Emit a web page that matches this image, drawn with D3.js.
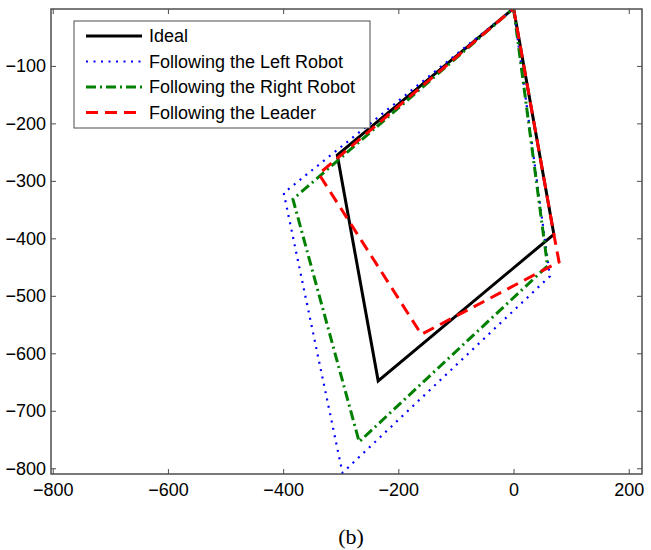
<!DOCTYPE html>
<html>
<head>
<meta charset="utf-8">
<script src="https://cdn.jsdelivr.net/npm/d3@7"></script>
<style>
	body { margin: 0; background: #fff; }
	.tick-label { font-family: "Liberation Sans", Arial, sans-serif; font-size: 18px; fill: #000; }
	.legend-text { font-family: "Liberation Sans", Arial, sans-serif; font-size: 18px; fill: #000; }
	.caption { font-family: "Liberation Serif", "Times New Roman", serif; font-size: 22px; fill: #000; }
</style>
</head>
<body>
<div id="svg-div"></div>
<script>
// Series (x, y)
var idealX = [0, 70, -235, -306, 0];
var idealY = [0, -393, -648, -255, 0];

var leftX = [0, 63, -297, -399, 0];
var leftY = [0, -466, -808, -321, 0];

var rightX = [0, 59, -268, -383, 0];
var rightY = [0, -448, -754, -332, 0];

var leaderX = [0, 70, 79, -160, -338, 0];
var leaderY = [0, -393, -441, -567, -288, 0];

var xTicks = [-800, -600, -400, -200, 0, 200];
var yTicks = [-100, -200, -300, -400, -500, -600, -700, -800];

var seriesNames = ["Ideal", "Following the Left Robot", "Following the Right Robot", "Following the Leader"];

var chartProperties = {
	outerWidth: 651,
	outerHeight: 550,
	left: 51,
	right: 642,
	top: 9,
	bottom: 474
};

var series = [
	{ name: seriesNames[0], xs: idealX, ys: idealY, color: "#000000", width: 3, dash: null },
	{ name: seriesNames[1], xs: leftX, ys: leftY, color: "#0000ff", width: 2.2, dash: "2,5.5" },
	{ name: seriesNames[2], xs: rightX, ys: rightY, color: "#008000", width: 3, dash: "10,4,2,4" },
	{ name: seriesNames[3], xs: leaderX, ys: leaderY, color: "#ff0000", width: 3, dash: "12,7" }
];

var svg = d3.select("#svg-div")
	.append("svg")
	.attr("width", chartProperties.outerWidth)
	.attr("height", chartProperties.outerHeight);

// Scales (axis equal)
var xScale = d3.scaleLinear()
	.domain([-803, 223])
	.range([chartProperties.left, chartProperties.right]);

var yScale = d3.scaleLinear()
	.domain([-810, -1])
	.range([chartProperties.bottom, chartProperties.top]);

var plotW = chartProperties.right - chartProperties.left;
var plotH = chartProperties.bottom - chartProperties.top;

svg.append("clipPath")
	.attr("id", "plot-clip")
	.append("rect")
	.attr("x", chartProperties.left)
	.attr("y", chartProperties.top)
	.attr("width", plotW)
	.attr("height", plotH);

// Lines
var line = d3.line()
	.x(function(d) { return xScale(d[0]); })
	.y(function(d) { return yScale(d[1]); });

var plot = svg.append("g").attr("clip-path", "url(#plot-clip)");

series.forEach(function(s) {
	var pts = s.xs.map(function(x, i) { return [x, s.ys[i]]; });
	plot.append("path")
		.datum(pts)
		.attr("d", line)
		.attr("fill", "none")
		.attr("stroke", s.color)
		.attr("stroke-width", s.width)
		.attr("stroke-linejoin", "miter")
		.attr("stroke-dasharray", s.dash);
});

// Axes, ticks inside on all four sides
var axisColor = "#4d4d4d";
var tickLen = 5;

function styleAxis(g) {
	g.select(".domain").remove();
	g.selectAll(".tick line").attr("stroke", axisColor).attr("stroke-width", 1);
	g.selectAll(".tick text").attr("class", "tick-label").attr("fill", "#000");
}

var fmt = function(d) { return d3.format("")(d).replace("-", "\u2212"); };

svg.append("g")
	.attr("transform", "translate(0," + chartProperties.bottom + ")")
	.call(d3.axisTop(xScale).tickValues(xTicks).tickSize(tickLen).tickFormat(""))
	.call(styleAxis);

svg.append("g")
	.attr("transform", "translate(0," + chartProperties.bottom + ")")
	.call(d3.axisBottom(xScale).tickValues(xTicks).tickSize(0).tickPadding(9).tickFormat(fmt))
	.call(styleAxis);

svg.append("g")
	.attr("transform", "translate(0," + chartProperties.top + ")")
	.call(d3.axisBottom(xScale).tickValues(xTicks).tickSize(tickLen).tickFormat(""))
	.call(styleAxis);

svg.append("g")
	.attr("transform", "translate(" + chartProperties.left + ",0)")
	.call(d3.axisRight(yScale).tickValues(yTicks).tickSize(tickLen).tickFormat(""))
	.call(styleAxis);

svg.append("g")
	.attr("transform", "translate(" + chartProperties.left + ",0)")
	.call(d3.axisLeft(yScale).tickValues(yTicks).tickSize(0).tickPadding(5).tickFormat(fmt))
	.call(styleAxis);

svg.append("g")
	.attr("transform", "translate(" + chartProperties.right + ",0)")
	.call(d3.axisLeft(yScale).tickValues(yTicks).tickSize(tickLen).tickFormat(""))
	.call(styleAxis);

// Box
svg.append("rect")
	.attr("x", chartProperties.left)
	.attr("y", chartProperties.top)
	.attr("width", plotW)
	.attr("height", plotH)
	.attr("fill", "none")
	.attr("stroke", axisColor)
	.attr("stroke-width", 1.5);

// Legend
var legend = svg.append("g").attr("transform", "translate(74,21)");

legend.append("rect")
	.attr("width", 296)
	.attr("height", 107)
	.attr("fill", "#fff")
	.attr("stroke", axisColor)
	.attr("stroke-width", 1);

series.forEach(function(s, i) {
	var yy = 15 + i * 25.5;
	legend.append("line")
		.attr("x1", 12)
		.attr("x2", 68)
		.attr("y1", yy)
		.attr("y2", yy)
		.attr("stroke", s.color)
		.attr("stroke-width", s.width)
		.attr("stroke-dasharray", s.dash);
	legend.append("text")
		.attr("class", "legend-text")
		.attr("x", 75)
		.attr("y", yy)
		.attr("dy", "0.35em")
		.text(s.name);
});

// Caption
svg.append("text")
	.attr("class", "caption")
	.attr("x", 351)
	.attr("y", 544)
	.attr("text-anchor", "middle")
	.text("(b)");
</script>
</body>
</html>
